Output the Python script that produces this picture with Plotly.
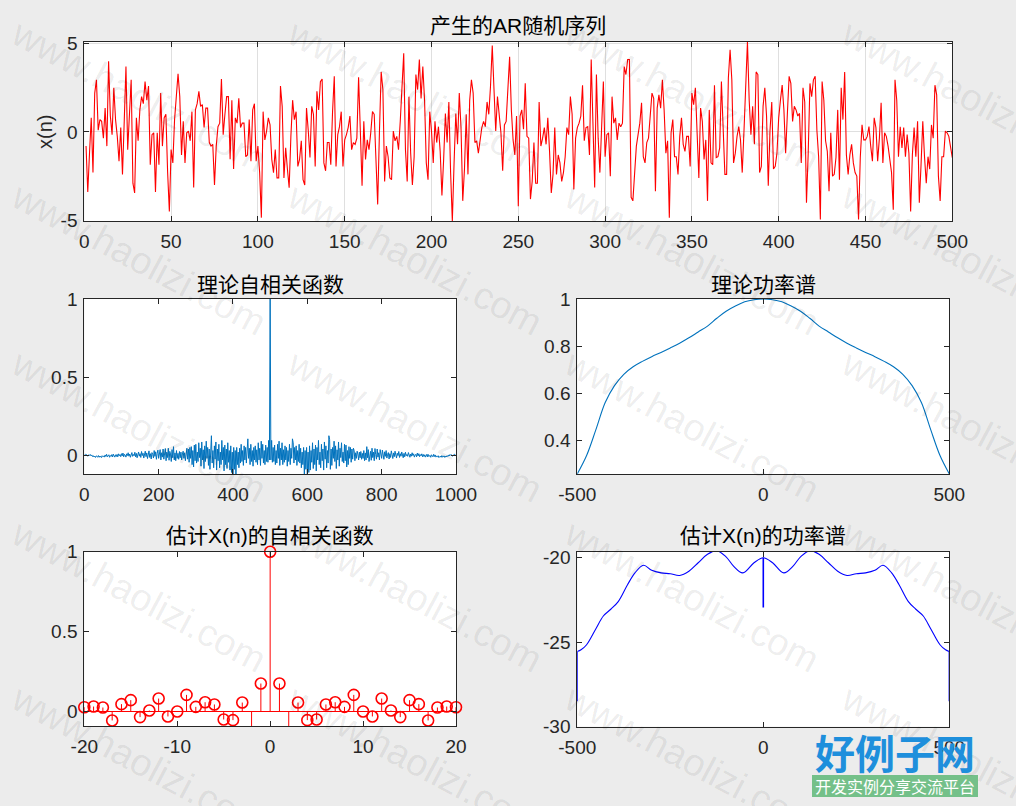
import plotly.graph_objects as go

W, H = 1016, 806

# ---------------- data ----------------
# AR random sequence x(n), n = 1..500
ar_seq = [
    -0.8, -3.4, -1.2, 0.8, -2.3, 2.2, 2.95, 0.1, 0.7, 0.6,
    -0.35, 1.35, -0.8, 4.0, 0.9, -0.15, 2.5, 0.7, -0.25, -1.65,
    0.25, -2.4, 0.6, 3.7, -1.0, 1.0, 2.95, -2.9, -3.45, 0.8,
    -0.5, 1.25, 2.0, 1.6, 2.85, 1.8, 2.6, -1.85, -0.15, -0.05,
    -3.4, -0.05, -1.85, 2.2, -0.8, 0.8, 1.0, -2.3, -4.5, -1.0,
    -1.75, 0.7, 2.0, 3.3, 2.0, -1.3, 0.6, -1.75, -0.05, 0.05,
    -0.5, 1.15, -3.15, 1.25, 1.6, 2.3, 1.45, 1.55, 0.25, 1.35,
    1.35, -0.6, -0.8, -0.7, -3.0, -0.8, 0.3, 0.5, 3.0, -0.15,
    1.0, 2.0, 2.0, -1.55, 1.8, -2.1, 0.8, 0.5, 1.9, 0.25,
    0.5, 0.5, -1.4, -1.3, 0.7, -1.65, 1.25, 1.6, -1.65, -0.8,
    -2.3, -4.85, 1.15, -0.45, 0.05, 0.8, 0.4, -1.55, -2.3, -1.0,
    -2.6, -2.6, 2.6, 1.45, -2.6, -0.9, -2.1, -3.15, -0.25, 1.8,
    0.7, 1.15, -1.95, -1.55, -0.5, -2.7, -3.0, 1.35, 0.1, -1.45,
    1.45, 1.0, -1.95, 2.3, 1.25, 2.85, 3.0, -1.75, -2.2, -0.6,
    -0.6, -1.85, 1.15, 3.15, -1.95, -0.15, 0.3, 1.15, -1.95, -0.45,
    -0.15, 0.25, 0.9, -1.0, -0.6, -0.7, -0.35, 3.1, 0.1, -3.05,
    0.6, -1.55, -0.45, -1.0, -0.05, 1.15, 1.0, -2.1, -4.1, -0.05,
    3.4, 2.4, -2.8, -0.8, -1.4, -2.6, -2.7, 0.05, -0.5, -0.25,
    -1.0, 0.6, 2.2, 4.45, -1.0, -2.8, 2.0, -1.2, -3.0, -1.4,
    3.25, 2.4, 4.1, 1.9, 3.7, 1.8, -1.75, -2.7, 1.15, 0.05,
    -1.75, 0.6, -0.6, 0.3, -1.1, -3.6, -1.55, 1.05, -0.6, 1.7,
    -2.3, -5.05, -1.75, 1.05, -0.7, 2.2, 0.25, -3.9, -2.1, 1.0,
    -2.4, 1.8, 2.95, 2.2, -0.6, -0.5, -1.2, -0.45, 0.25, 0.6,
    0.3, 1.7, 1.0, 2.6, 4.9, 2.4, 0.05, 2.0, 1.0, -0.05,
    -2.2, 0.4, 0.6, 2.75, 4.25, 1.25, -0.45, -1.3, 0.9, -4.2,
    0.9, 1.25, 0.15, 2.75, -0.25, -0.35, -3.8, -2.8, -0.6, -2.9,
    -2.9, 1.7, -0.8, -0.35, 0.25, -0.7, 0.8, -1.1, -3.45, -2.4,
    0.25, -2.4, -1.3, -1.75, -2.8, -2.3, -1.4, 0.25, -0.15, 2.0,
    1.0, -3.25, -0.35, 0.25, 0.5, 0.9, 2.65, -0.5, 0.25, 0.3,
    -1.3, 4.1, 1.0, -3.15, 3.25, -0.35, -2.3, -0.05, 2.85, -1.4,
    -0.15, -0.05, -2.5, 2.0, 0.5, 0.8, -0.45, 0.5, 0.3, 0.5,
    3.7, 3.25, 4.1, 4.1, -3.7, -3.9, -2.1, -0.8, -0.15, 0.5,
    1.65, -1.4, -1.75, -0.6, -0.35, 0.9, 2.2, 1.9, -3.35, 1.35,
    2.1, 1.35, 2.95, 1.25, -1.2, -0.5, -4.85, -0.05, 0.7, -1.4,
    -1.4, -2.4, -0.25, 0.8, -0.7, -1.1, -0.25, -0.25, -1.95, 2.2,
    1.55, 2.5, -0.45, -2.6, 1.35, 0.6, -1.55, -0.45, -3.9, 1.25,
    -1.75, -1.85, 2.65, -1.45, -1.4, -0.9, 2.85, 0.4, -2.4, -2.4,
    3.05, 4.65, 2.95, -1.75, -1.2, -0.25, 0.3, -0.45, -2.3, 0.05,
    2.5, 5.1, 1.8, -0.15, 1.45, -0.7, 3.4, 3.25, -2.3, -1.95,
    1.45, 2.5, 0.9, -3.05, 0.1, 1.7, -2.1, -1.95, -1.2, 0.8,
    1.8, 2.65, 1.25, -1.2, 1.05, 3.15, 2.75, 0.6, 1.45, 1.25,
    0.9, 1.05, -1.75, 2.5, 1.7, -4.0, -1.2, 2.75, 2.0, 2.95,
    3.15, 0.1, -1.4, -4.95, 2.85, 1.8, -0.5, -1.1, -3.35, -0.05,
    -2.5, -2.4, -1.45, 1.25, -2.7, 2.5, 0.7, 3.4, -1.3, -2.4,
    -1.3, -0.7, -1.75, -2.3, -2.5, -4.95, -1.45, 0.4, -0.45, -0.45,
    -0.25, 0.3, -0.8, -1.65, 0.8, 0.25, -1.65, -0.35, 1.65, -1.75,
    -0.05, -0.25, -0.8, -1.75, -2.3, -4.4, 2.95, 1.8, -1.4, 0.3,
    -0.9, 0.25, -1.4, -0.15, -1.2, -4.5, -1.3, 0.25, -1.4, 0.6,
    -4.0, -1.85, 0.6, -1.4, -2.9, -1.4, -2.1, 0.4, -0.35, 2.65,
    2.1, -2.5, -3.9, -1.4, -1.4, 0.05, -0.05, -0.25, -0.8, -1.45,
]

# theoretical autocorrelation, lags 0,2,...,498 (left half; symmetric about lag 500)
r_left = [
    0.004, -0.003, 0.006, 0.001, -0.002, -0.006, 0.003, -0.001, 0.005, -0.004,
    0.002, -0.008, -0.003, -0.011, -0.006, -0.014, -0.004, -0.009, -0.012, -0.002,
    -0.013, -0.005, -0.01, -0.015, -0.003, -0.009, -0.006, -0.012, 0.002, -0.008,
    0.006, -0.01, -0.004, 0.003, -0.013, -0.002, -0.007, 0.004, -0.011, 0.007,
    -0.004, -0.012, 0.003, -0.008, 0.005, -0.01, 0.009, -0.003, 0.004, -0.009,
    0.01, -0.004, 0.014, -0.01, 0.006, 0.001, -0.012, 0.009, -0.002, 0.016,
    -0.006, 0.008, -0.013, 0.003, 0.017, -0.007, 0.005, -0.003, 0.019, -0.01,
    0.012, -0.016, 0.004, 0.021, -0.006, 0.01, -0.014, 0.024, -0.002, 0.013,
    -0.018, 0.008, 0.026, -0.009, 0.015, -0.021, 0.004, 0.028, -0.014, 0.01,
    -0.024, 0.017, 0.006, -0.018, 0.03, -0.007, 0.022, -0.026, 0.012, 0.033,
    -0.02, 0.008, 0.036, -0.03, 0.016, -0.012, 0.04, -0.025, 0.004, 0.043,
    -0.035, 0.02, -0.015, 0.045, -0.032, 0.025, 0.008, -0.04, 0.036, -0.016,
    0.055, -0.03, 0.015, -0.035, 0.03, -0.02, 0.012, -0.026, 0.024, -0.016,
    0.02, -0.03, 0.008, 0.026, -0.02, 0.016, -0.035, 0.03, 0.045, -0.025,
    0.04, -0.045, 0.05, -0.02, 0.055, -0.06, 0.03, -0.075, 0.065, -0.035,
    0.07, -0.05, 0.02, -0.04, 0.08, -0.015, 0.045, -0.07, 0.085, -0.03,
    0.035, -0.085, 0.06, -0.04, 0.09, -0.02, 0.05, -0.065, 0.04, -0.09,
    0.1, 0.125, -0.05, 0.03, -0.08, 0.06, -0.025, 0.085, -0.095, 0.04,
    -0.035, 0.07, -0.08, 0.02, -0.06, 0.095, -0.03, 0.05, -0.1, 0.065,
    -0.06, 0.04, -0.085, 0.08, -0.045, 0.03, -0.095, 0.06, -0.11, 0.02,
    -0.12, 0.05, -0.09, 0.03, -0.12, 0.05, -0.06, 0.02, -0.08, 0.045,
    -0.05, 0.07, -0.04, 0.03, -0.065, 0.06, -0.03, 0.05, -0.05, 0.08,
    0.105, -0.02, 0.045, -0.06, 0.07, -0.04, 0.03, -0.07, 0.05, -0.03,
    0.06, -0.045, 0.035, -0.06, 0.08, -0.03, 0.045, -0.065, 0.09, -0.02,
    0.07, -0.05, 0.03, -0.06, 0.065, -0.04, 0.05, -0.045, 0.095, -0.03,
]
r_peak = 1.0

# theoretical power spectrum (right half, symmetric)
tpsd_f_half = [0, 25, 50, 75, 100, 125, 150, 175, 200, 225, 250, 275, 300,
               325, 350, 375, 400, 425, 450, 475, 500]
tpsd_half = [1.0, 0.997, 0.988, 0.97, 0.948, 0.918, 0.885, 0.86, 0.835, 0.812,
             0.792, 0.773, 0.755, 0.735, 0.712, 0.68, 0.632, 0.56, 0.445, 0.335, 0.257]

# estimated autocorrelation of x(n), lags -20..20
acf_lags = list(range(-20, 21))
acf_est = [0.027, 0.031, 0.025, -0.056, 0.046, 0.071, -0.035, 0.006, 0.081, -0.031,
           0.0, 0.104, 0.029, 0.058, 0.044, -0.05, -0.054, 0.056, -0.096, 0.175,
           1.0,
           0.175, -0.096, 0.056, -0.054, -0.05, 0.044, 0.058, 0.029, 0.104, 0.0,
           -0.031, 0.081, 0.006, -0.035, 0.071, 0.046, -0.056, 0.025, 0.031, 0.027]

# estimated power spectrum (dB), right half, symmetric
epsd_f_half = [0, 25, 55, 80, 100, 125, 150, 175, 200, 225, 250, 275, 300,
               322, 345, 365, 390, 410, 430, 450, 475, 490, 500]
epsd_half = [-20.0, -20.3, -20.9, -20.5, -19.95, -19.58, -19.8, -20.3, -20.8, -21.05,
             -20.95, -20.9, -20.75, -20.45, -20.9, -21.6, -22.6, -23.05, -23.45, -24.2,
             -25.15, -25.45, -25.55]
epsd_notch = -22.95     # value at f = 0
epsd_edge = -28.5       # value at f = +-500

# tick labels
top_xt = [0, 50, 100, 150, 200, 250, 300, 350, 400, 450, 500]
top_yt = [-5, 0, 5]
ml_xt = [0, 200, 400, 600, 800, 1000]
ml_yt = [0, 0.5, 1]
mr_xt = [-500, 0, 500]
mr_yt = [0.4, 0.6, 0.8, 1]
bl_xt = [-20, -10, 0, 10, 20]
bl_yt = [0, 0.5, 1]
br_xt = [-500, 0, 500]
br_yt = [-30, -25, -20]

titles = ["产生的AR随机序列", "理论自相关函数", "理论功率谱", "估计X(n)的自相关函数", "估计X(n)的功率谱"]

# ---------------- derived series ----------------
n_idx = list(range(1, len(ar_seq) + 1))

r_lags = list(range(0, 1001, 2))
r_vals = r_left + [r_peak] + r_left[::-1]

tpsd_f = [-f for f in tpsd_f_half[:0:-1]] + tpsd_f_half
tpsd = tpsd_half[:0:-1] + tpsd_half

epsd_f = [-f for f in epsd_f_half[:0:-1]] + epsd_f_half
epsd = epsd_half[:0:-1] + epsd_half

stem_x, stem_y = [], []
for k, v in zip(acf_lags, acf_est):
    stem_x += [k, k, None]
    stem_y += [0, v, None]

# ---------------- figure ----------------
FONT = "Liberation Sans, Arial, Helvetica, Noto Sans CJK SC, sans-serif"
AXC = "#262626"
BLUE = "#0072BD"

fig = go.Figure()


def line(x, y, color, width, xa, ya, shape="linear"):
    fig.add_trace(go.Scatter(x=x, y=y, mode="lines", line=dict(color=color, width=width, shape=shape),
                             xaxis=xa, yaxis=ya, showlegend=False, hoverinfo="skip"))


line(n_idx, ar_seq, "#ff0000", 1.1, "x", "y")
line(r_lags, r_vals, BLUE, 1.0, "x2", "y2")
line(tpsd_f, tpsd, BLUE, 1.1, "x3", "y3", "spline")
# stems
line([acf_lags[0], acf_lags[-1]], [0, 0], "#ff0000", 1.0, "x4", "y4")
line(stem_x, stem_y, "#ff0000", 1.0, "x4", "y4")
fig.add_trace(go.Scatter(x=acf_lags, y=acf_est, mode="markers",
                         marker=dict(symbol="circle-open", size=11, color="#ff0000",
                                     line=dict(width=1.6, color="#ff0000")),
                         xaxis="x4", yaxis="y4", showlegend=False, hoverinfo="skip", cliponaxis=False))
line(epsd_f, epsd, "#0000ff", 1.1, "x5", "y5", "spline")
line([0, 0], [epsd_half[0], epsd_notch], "#0000ff", 1.6, "x5", "y5")
line([epsd_f[0], epsd_f[0]], [epsd[0], epsd_edge], "#0000ff", 1.4, "x5", "y5")
line([epsd_f[-1], epsd_f[-1]], [epsd[-1], epsd_edge], "#0000ff", 1.4, "x5", "y5")


def px_dom_x(a, b):
    return [a / W, b / W]


def px_dom_y(top, bottom):
    return [1 - bottom / H, 1 - top / H]


def fmt(v):
    return "%g" % v


def ax(domain, rng, tv, anchor, grid=False, standoff=3):
    return dict(domain=domain, range=rng, tickvals=tv, ticktext=[fmt(v) for v in tv], anchor=anchor,
                showline=True, linecolor=AXC, linewidth=1, mirror="ticks",
                ticks="inside", ticklen=5, tickwidth=1, tickcolor=AXC,
                showgrid=grid, gridcolor="#dfdfdf", gridwidth=1, zeroline=False,
                tickfont=dict(family=FONT, size=19, color=AXC), fixedrange=True,
                ticklabelstandoff=standoff, automargin=False)


XL, XR = 84.3, 952.3
L1, L2 = 84.3, 456.0
R1, R2 = 577.3, 949.3

fig.update_layout(
    width=W, height=H, autosize=False,
    margin=dict(l=0, r=0, t=0, b=0, pad=0, autoexpand=False),
    paper_bgcolor="#ececec", plot_bgcolor="#ffffff",
    xaxis=ax(px_dom_x(XL, XR), [0, 500], top_xt, "y", grid=True),
    yaxis=ax(px_dom_y(41.7, 221.0), [-5.04, 5.11], top_yt, "x", grid=True, standoff=2),
    xaxis2=ax(px_dom_x(L1, L2), [0, 1000], ml_xt, "y2"),
    yaxis2=ax(px_dom_y(299.0, 474.0), [-0.12, 1.0], ml_yt, "x2", standoff=2),
    xaxis3=ax(px_dom_x(R1, R2), [-500, 500], mr_xt, "y3"),
    yaxis3=ax(px_dom_y(299.0, 474.0), [0.2566, 1.0], mr_yt, "x3", standoff=2),
    xaxis4=ax(px_dom_x(L1, L2), [-20, 20], bl_xt, "y4"),
    yaxis4=ax(px_dom_y(551.7, 726.2), [-0.092, 1.0], bl_yt, "x4", standoff=2),
    xaxis5=ax(px_dom_x(R1, R2), [-500, 500], br_xt, "y5"),
    yaxis5=ax(px_dom_y(551.7, 726.7), [-30, -19.645], br_yt, "x5", standoff=2),
)

ann = []
title_pos = [((XL + XR) / 2, 25), ((L1 + L2) / 2, 284), ((R1 + R2) / 2, 284),
             ((L1 + L2) / 2, 535), ((R1 + R2) / 2, 535)]
for t, (cx, cy) in zip(titles, title_pos):
    ann.append(dict(text=t, x=cx / W, y=1 - cy / H, xref="paper", yref="paper", showarrow=False,
                    xanchor="center", yanchor="middle",
                    font=dict(family=FONT, size=21, color="#000000")))
ann.append(dict(text="x(n)", x=45 / W, y=1 - 132 / H, xref="paper", yref="paper", showarrow=False,
                xanchor="center", yanchor="middle", textangle=-90,
                font=dict(family=FONT, size=20, color=AXC)))

# watermark overlay
for cx in [139, 415, 692, 969]:
    for cy in [96, 259, 426, 596, 761]:
        ann.append(dict(text="www.haolizi.com", x=cx / W, y=1 - cy / H, xref="paper", yref="paper",
                        showarrow=False, xanchor="center", yanchor="middle", textangle=28,
                        font=dict(family="Liberation Sans, Arial, sans-serif", size=38,
                                  color="rgba(0,0,0,0.08)")))

# site logo
ann.append(dict(text="<b>好例子网</b>", x=895 / W, y=1 - 752 / H, xref="paper", yref="paper",
                showarrow=False, xanchor="center", yanchor="middle",
                font=dict(family="Noto Sans CJK SC", size=40, color="#1e8fdc")))
ann.append(dict(text="开发实例分享交流平台", x=895 / W, y=1 - 786 / H, xref="paper", yref="paper",
                showarrow=False, xanchor="center", yanchor="middle",
                font=dict(family="Noto Sans CJK SC", size=16, color="#ffffff")))
fig.update_layout(annotations=ann)
fig.add_shape(type="rect", xref="paper", yref="paper", x0=812 / W, x1=978 / W,
              y0=1 - 797 / H, y1=1 - 775 / H, fillcolor="rgba(95,185,120,0.85)", line=dict(width=0),
              layer="above")

fig.write_html("out.html")
